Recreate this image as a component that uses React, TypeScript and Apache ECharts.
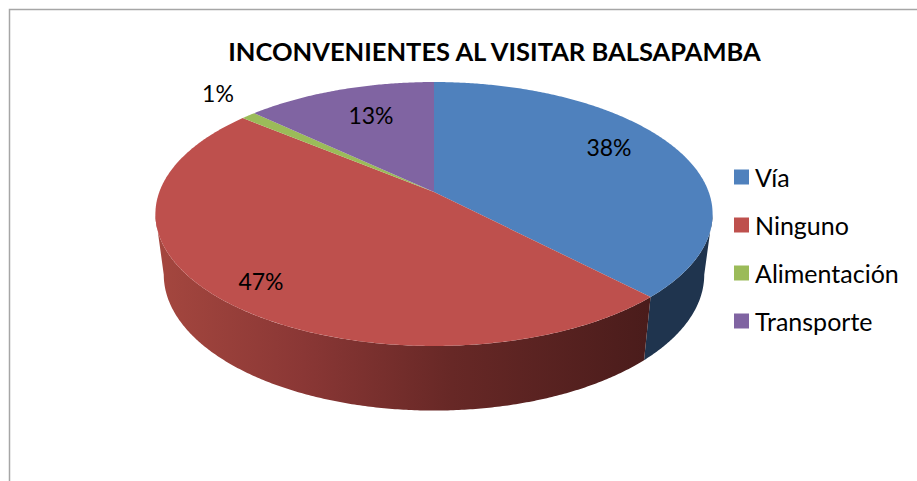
import React, { useEffect, useRef } from "react";
import * as echarts from "echarts";

const categories = ["Vía", "Ninguno", "Alimentación", "Transporte"];
const shares = [37.8, 48.2, 1.0, 13.0];
const percentLabels = ["38%", "47%", "1%", "13%"];
const colors = ["#4f81bd", "#be504d", "#9bbb59", "#8064a2"];
const titleText = "INCONVENIENTES AL VISITAR BALSAPAMBA";

const FONT = "Lato, Carlito, Calibri, sans-serif";
const total = shares.reduce((a, b) => a + b, 0);

// perspective projection of a tilted disc: apex at (CX, CY)
const CX = 434, CY = 192, A = 274.7, B = 128.3, K = 1 / 6;
const project = (deg: number, r = 1) => {
  const t = (deg * Math.PI) / 180;
  const u = Math.sin(t), v = -Math.cos(t);
  const w = 1 - K * v;
  return [CX + (A * r * u) / w, CY + (B * r * v) / w];
};
const lower = (p: number[]) => [CX + (p[0] - CX) * 0.97, CY + 60 + (p[1] - CY) * 1.03];

const WALL_FROM = 99.6, WALL_TO = 260.4;
const sample = (a: number, b: number) => {
  const n = Math.max(2, Math.ceil(Math.abs(b - a) * 2));
  const out: number[][] = [];
  for (let i = 0; i <= n; i++) out.push(project(a + ((b - a) * i) / n));
  return out;
};

const labelCentres = [
  [609, 147],
  [261, 281],
  [218, 93],
  [371, 115],
];

const wallFill = (i: number) =>
  i === 1
    ? new echarts.graphic.LinearGradient(
        155, 0, 650, 0,
        [
          { offset: 0, color: "#a5473f" },
          { offset: 0.3, color: "#8a3735" },
          { offset: 0.6, color: "#672826" },
          { offset: 1, color: "#4a1c1b" },
        ],
        true
      )
    : "#1f344e";

const sliceSeries = categories.map((name, i) => {
  const before = shares.slice(0, i).reduce((a, b) => a + b, 0);
  const start = (before / total) * 360;
  const end = ((before + shares[i]) / total) * 360;
  return {
    type: "custom",
    name,
    coordinateSystem: "none",
    itemStyle: { color: colors[i] },
    data: [[shares[i]]],
    silent: true,
    renderItem: () => {
      const children: any[] = [];
      const wa = Math.max(start, WALL_FROM), wb = Math.min(end, WALL_TO);
      if (wb > wa) {
        const top = sample(wa, wb);
        children.push({
          type: "polygon",
          shape: { points: [...top, ...top.slice().reverse().map(lower)] },
          style: { fill: wallFill(i), stroke: "none" },
        });
      }
      children.push({
        type: "polygon",
        shape: { points: [[CX, CY], ...sample(start, end)] },
        style: { fill: colors[i], stroke: "none" },
      });
      children.push({
        type: "text",
        x: labelCentres[i][0],
        y: labelCentres[i][1],
        z2: 10,
        style: {
          text: percentLabels[i],
          fill: "#000",
          font: `23px ${FONT}`,
          align: "center",
          verticalAlign: "middle",
        },
      });
      return { type: "group", children };
    },
  };
});

export default function App() {
  const ref = useRef<HTMLDivElement>(null);
  useEffect(() => {
    const chart = echarts.init(ref.current!, undefined, { renderer: "svg" });
    chart.setOption({
      animation: false,
      backgroundColor: "#fff",
      title: {
        text: titleText,
        left: 489.5,
        top: 46,
        textAlign: "center",
        textVerticalAlign: "middle",
        textStyle: { fontFamily: FONT, fontWeight: "bold", fontSize: 25.5, color: "#000" },
      },
      legend: {
        orient: "vertical",
        left: 734,
        top: 164.5,
        icon: "rect",
        itemWidth: 15,
        itemHeight: 15,
        itemGap: 23,
        padding: 0,
        data: categories,
        textStyle: { fontFamily: FONT, fontSize: 25, color: "#000", padding: [0, 0, 0, 1] },
      },
      graphic: [
        {
          type: "polyline",
          shape: { points: [[9.5, 481], [9.5, 9.5], [917, 9.5]] },
          style: { stroke: "#a6a6a6", lineWidth: 1.5, fill: "none" },
        },
      ],
      series: sliceSeries,
    });
    return () => chart.dispose();
  }, []);
  return <div ref={ref} style={{ position: "absolute", left: 0, top: 0, width: 917, height: 481 }} />;
}
